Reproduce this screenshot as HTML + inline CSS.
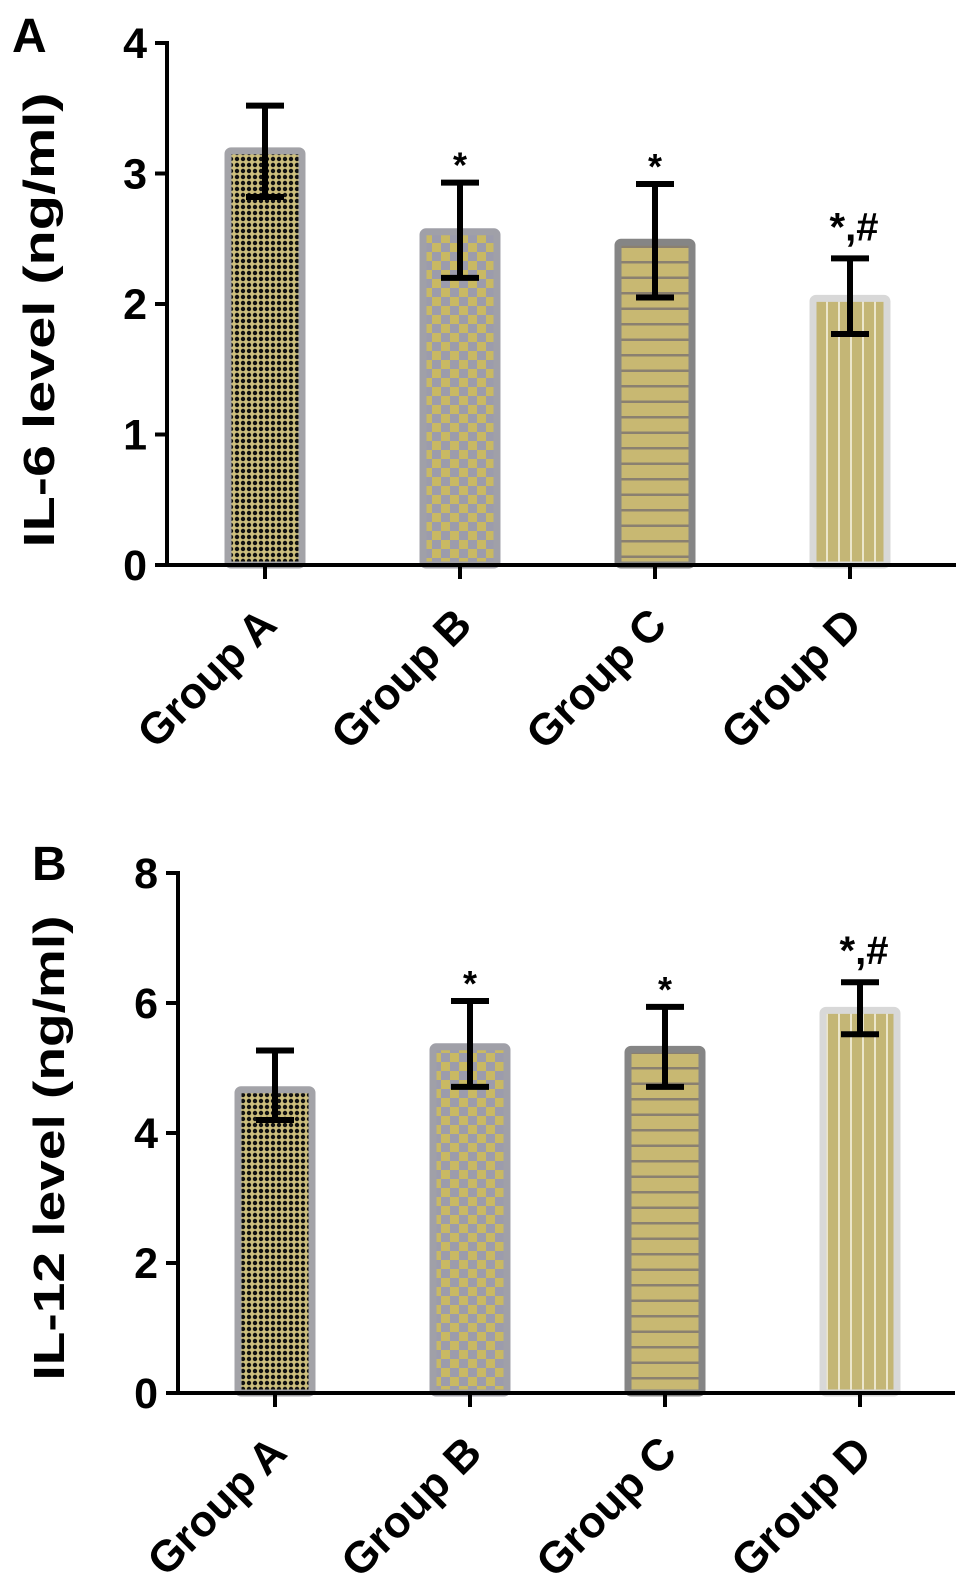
<!DOCTYPE html>
<html><head><meta charset="utf-8"><style>
html,body{margin:0;padding:0;background:#fff;}
svg{display:block;font-family:"Liberation Sans",Arial,sans-serif;font-weight:bold;}
</style></head><body>
<svg id="chart" width="969" height="1588" viewBox="0 0 969 1588" xmlns="http://www.w3.org/2000/svg">
<defs>
<pattern id="pA" width="6" height="6" patternUnits="userSpaceOnUse"><rect width="6" height="6" fill="#cbbd7c"/><circle cx="3" cy="3" r="2.2" fill="#111"/></pattern>
<pattern id="pB" width="18" height="18" patternUnits="userSpaceOnUse"><rect width="18" height="18" fill="#c9b963"/><rect width="9" height="9" fill="#9c9cac"/><rect x="9" y="9" width="9" height="9" fill="#9c9cac"/></pattern>
<pattern id="pC" width="10" height="15.5" patternUnits="userSpaceOnUse"><rect width="10" height="15.5" fill="#c8b872"/><rect y="13" width="10" height="2.5" fill="#8a8070"/></pattern>
<pattern id="pD" width="12" height="10" patternUnits="userSpaceOnUse"><rect width="12" height="10" fill="#c4b676"/><rect x="10" width="2" height="10" fill="#ece6cc"/></pattern>
</defs>
<g id="panels"></g>
</svg>
<script>
const categories = ["Group A","Group B","Group C","Group D"];
const il6Values = [3.2, 2.58, 2.5, 2.07];
const il6Lower = [2.82, 2.2, 2.05, 1.77];
const il6Upper = [3.52, 2.93, 2.92, 2.35];
const il6Ticks = [0,1,2,3,4];
const il6Marks = ["", "*", "*", "*,#"];
const il12Values = [4.72, 5.38, 5.34, 5.94];
const il12Lower = [4.2, 4.71, 4.71, 5.52];
const il12Upper = [5.27, 6.03, 5.94, 6.32];
const il12Ticks = [0,2,4,6,8];
const il12Marks = ["", "*", "*", "*,#"];

const NS = "http://www.w3.org/2000/svg";
const root = document.getElementById("panels");
const fills = ["url(#pA)","url(#pB)","url(#pC)","url(#pD)"];
const borders = ["#a3a3a8","#a0a0a8","#858585","#d8d8d8"];
function mk(tag, attrs, parent){const e=document.createElementNS(NS,tag);for(const k in attrs)e.setAttribute(k,attrs[k]);(parent||root).appendChild(e);return e;}

function panel(cfg){
  const g = mk("g",{});
  
  
  const ymax = cfg.ticks[cfg.ticks.length-1];
  const y = v => cfg.y0 - (cfg.y0 - cfg.yTop) * v / ymax;
  const x = i => cfg.x0 + i * cfg.step;
  const L = mk("text",{x:cfg.letterX,y:cfg.letterY,"font-size":48,fill:"#000"},g); L.textContent=cfg.letter;
  
  
  const t = mk("text",{x:0,y:0,"font-size":44,"text-anchor":"middle",fill:"#000",transform:`translate(${cfg.titleX},${cfg.titleY}) rotate(-90)`,textLength:cfg.titleLen,lengthAdjust:"spacingAndGlyphs"},g);
  t.textContent = cfg.title;
  
  
  cfg.values.forEach((v,i)=>{
    const b = mk("rect",{x:x(i)-37,y:y(v)+3.5,width:74,height:cfg.y0-y(v)-3.5,fill:fills[i],stroke:borders[i],"stroke-width":7,rx:3},g);
    
    
  });
  cfg.values.forEach((v,i)=>{
    const eg = mk("g",{stroke:"#000","stroke-width":6,fill:"none"},g);
    
    
    mk("line",{x1:x(i),x2:x(i),y1:y(cfg.upper[i]),y2:y(cfg.lower[i])},eg);
    mk("line",{x1:x(i)-19,x2:x(i)+19,y1:y(cfg.upper[i]),y2:y(cfg.upper[i])},eg);
    mk("line",{x1:x(i)-19,x2:x(i)+19,y1:y(cfg.lower[i]),y2:y(cfg.lower[i])},eg);
    if(cfg.marks[i]){
      const s = mk("text",{x:x(i)+(cfg.marks[i].length>1?4:0),y:y(cfg.upper[i])-(cfg.marks[i].length>1?18:5),"font-size":cfg.marks[i].length>1?40:36,"text-anchor":"middle",fill:"#000"},g);
      s.textContent = cfg.marks[i];
      
      
    }
  });
  const ax = mk("g",{stroke:"#000","stroke-width":4,fill:"none"},g);
  
  
  mk("line",{x1:cfg.axisX,x2:cfg.axisX,y1:y(ymax)-2,y2:cfg.y0+2},ax);
  mk("line",{x1:cfg.axisX-12,x2:cfg.xEnd,y1:cfg.y0,y2:cfg.y0},ax);
  cfg.ticks.forEach(tv=>{
    mk("line",{x1:cfg.axisX-12,x2:cfg.axisX,y1:y(tv),y2:y(tv)},ax);
    const tl = mk("text",{x:cfg.axisX-20,y:y(tv)+15,"font-size":43,"text-anchor":"end",fill:"#000"},g);
    tl.textContent = tv;
    
    
  });
  categories.forEach((c,i)=>{
    mk("line",{x1:x(i),x2:x(i),y1:cfg.y0,y2:cfg.y0+14},ax);
    const cl = mk("text",{x:0,y:0,"font-size":44,"text-anchor":"end",fill:"#000",transform:`translate(${x(i)+14},${cfg.y0+62}) rotate(-45)`},g);
    cl.textContent = c;
    
    
  });
}

panel({id:"panel-a-il6",letter:"A",letterX:12,letterY:52,title:"IL-6 level (ng/ml)",titleX:54,titleY:320,titleLen:455,
  values:il6Values,lower:il6Lower,upper:il6Upper,ticks:il6Ticks,marks:il6Marks,
  y0:565,yTop:43,axisX:167,x0:265,step:195,xEnd:956});
panel({id:"panel-b-il12",letter:"B",letterX:32,letterY:880,title:"IL-12 level (ng/ml)",titleX:64,titleY:1148,titleLen:465,
  values:il12Values,lower:il12Lower,upper:il12Upper,ticks:il12Ticks,marks:il12Marks,
  y0:1393,yTop:873,axisX:178,x0:275,step:195,xEnd:955});
</script>
</body></html>
